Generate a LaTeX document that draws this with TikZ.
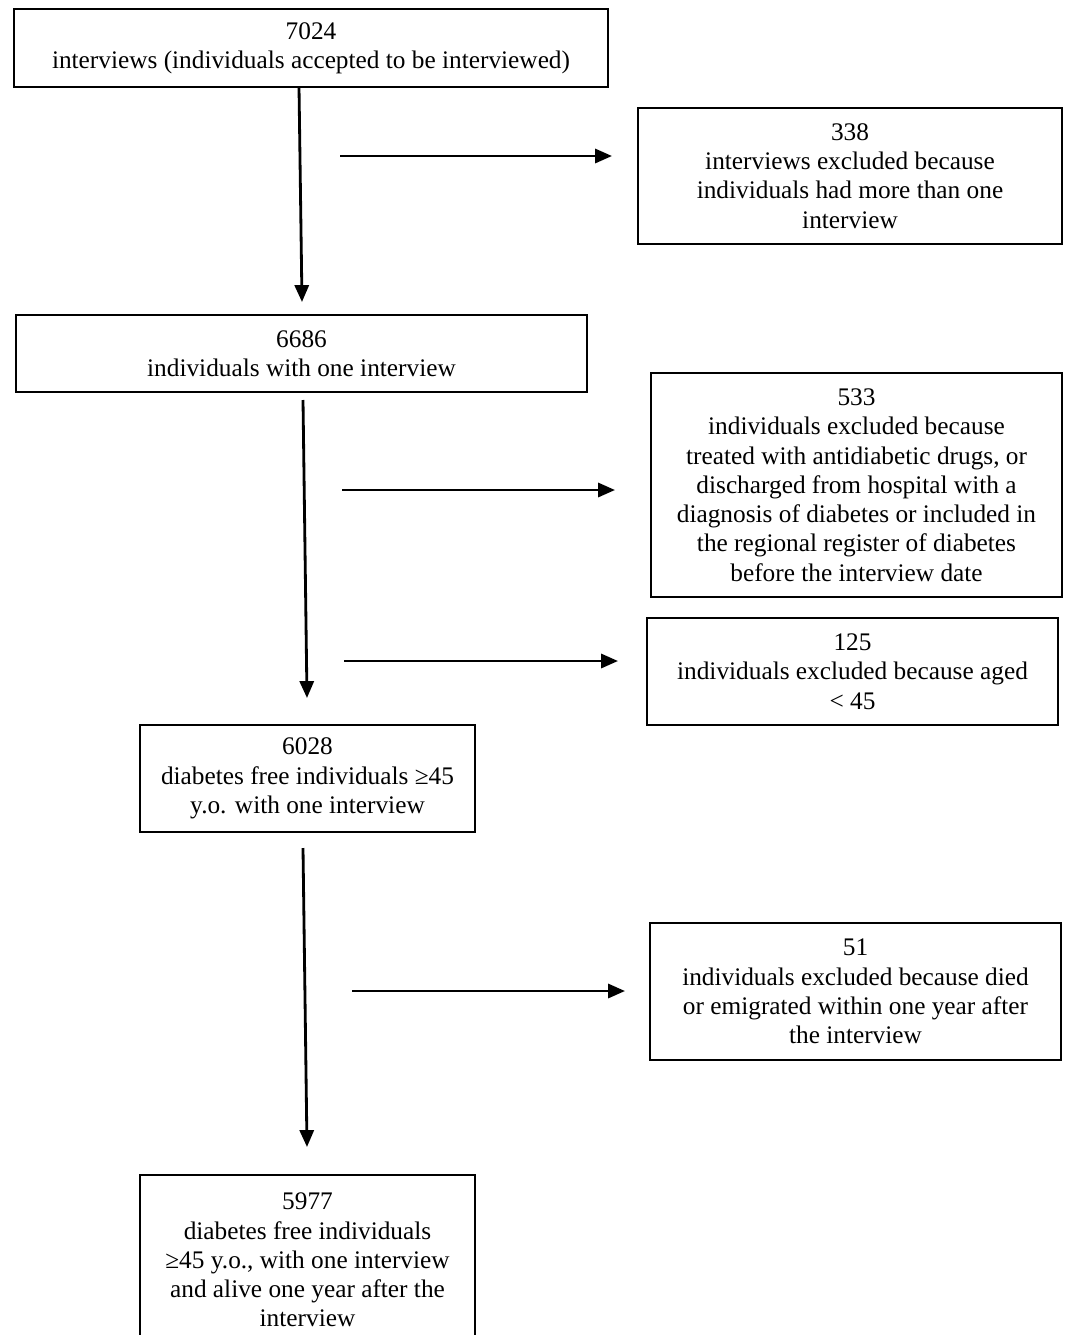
\documentclass[tikz,border=0pt]{standalone}
\usepackage{fontspec}
\setmainfont{Liberation Serif}
\usetikzlibrary{arrows.meta}
\tikzset{
  fbox/.style  = {draw, line width=1.3pt, align=center, inner sep=0pt, font=\fontsize{18}{20.8}\selectfont},
  arrow/.style = {-{Triangle[length=12pt, width=10pt]}, line width=2pt}
}

\begin{document}
\begin{tikzpicture}[x=0.025cm, y=-0.025cm]
  \useasboundingbox (0,0) rectangle (1067,1335);
  \clip (0,0) rectangle (1067,1335);
  % main column
  \node[fbox, minimum width=14.85cm, minimum height=1.95cm] (interviews) at (311,48)
    {7024\\interviews (individuals accepted to be interviewed)};
  \node[fbox, minimum width=14.275cm, minimum height=1.925cm] (oneint) at (301.5,353.5)
    {6686\\individuals with one interview};
  \node[fbox, minimum width=8.375cm, minimum height=2.675cm] (free) at (307.5,778.5)
    {6028\\diabetes free individuals ≥45\\y.o. with one interview};
  \node[fbox, minimum width=8.375cm, minimum height=4.25cm] (alive) at (307.5,1260)
    {5977\\diabetes free individuals\\≥45 y.o., with one interview\\and alive one year after the\\interview};
  % exclusions
  \node[fbox, minimum width=10.6cm, minimum height=3.4cm] (multi) at (850,176)
    {338\\interviews excluded because\\individuals had more than one\\interview};
  \node[fbox, minimum width=10.275cm, minimum height=5.6cm] (diab) at (856.5,485)
    {533\\individuals excluded because\\treated with antidiabetic drugs, or\\discharged from hospital with a\\diagnosis of diabetes or included in\\the regional register of diabetes\\before the interview date};
  \node[fbox, minimum width=10.275cm, minimum height=2.675cm] (aged) at (852.5,671.5)
    {125\\individuals excluded because aged\\< 45};
  \node[fbox, minimum width=10.275cm, minimum height=3.425cm] (died) at (855.5,991.5)
    {51\\individuals excluded because died\\or emigrated within one year after\\the interview};

  % free arrow ends
  \coordinate (v1s) at (299,87);
  \coordinate (v1) at (302,302);
  \coordinate (v2s) at (303,400);
  \coordinate (v2) at (307,698);
  \coordinate (v3s) at (303,848);
  \coordinate (v3) at (307,1147);
  \coordinate (h1s) at (340,156);
  \coordinate (h1) at (612,156);
  \coordinate (h2s) at (342,490);
  \coordinate (h2) at (615,490);
  \coordinate (h3s) at (344,661);
  \coordinate (h3) at (618,661);
  \coordinate (h4s) at (352,991);
  \coordinate (h4) at (625,991);

  \draw[arrow] (v1s) -- (v1);
  \draw[arrow] (v2s) -- (v2);
  \draw[arrow] (v3s) -- (v3);
  \draw[arrow] (h1s) -- (h1);
  \draw[arrow] (h2s) -- (h2);
  \draw[arrow] (h3s) -- (h3);
  \draw[arrow] (h4s) -- (h4);
\end{tikzpicture}
\end{document}
